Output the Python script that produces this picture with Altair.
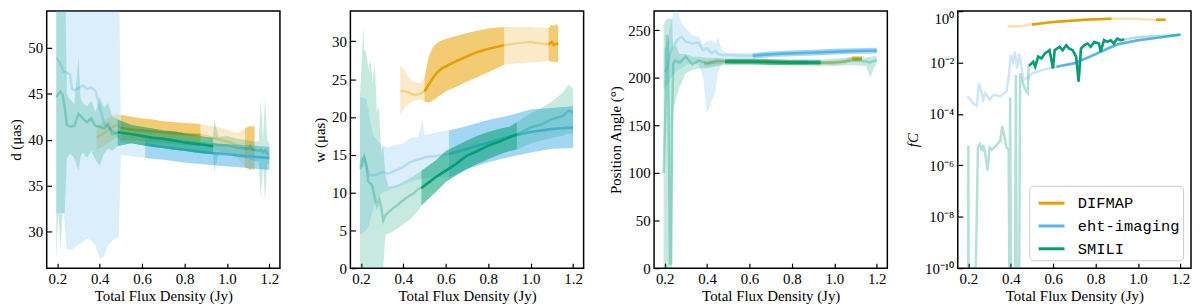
import altair as alt
import pandas as pd

METHODS = ["DIFMAP", "eht-imaging", "SMILI"]
COLORS = ["#E69F00", "#56B4E9", "#009E73"]
SOLID_DIFMAP = [[0.5, 0.875], [1.085, 1.13]]
SOLID_EHT = [[0.615, 1.2]]
SOLID_SMILI = [[0.485, 0.935]]
X_TICKS = [0.2, 0.4, 0.6, 0.8, 1.0, 1.2]

# ---------------- Panel 1: d (uas) ----------------
P1_DIFMAP_X = [0.385, 0.42, 0.45, 0.48, 0.50, 0.55, 0.60, 0.65, 0.70, 0.75, 0.80, 0.875, 0.90, 0.95, 1.00, 1.05, 1.085, 1.10, 1.11, 1.12, 1.13]
P1_DIFMAP_Y = [40.2, 40.7, 41.2, 41.6, 41.3, 41.1, 41.0, 40.9, 40.8, 40.7, 40.6, 40.5, 40.4, 40.1, 39.8, 39.4, 39.0, 39.1, 39.3, 38.9, 38.9]
P1_DIFMAP_LO = [38.9, 39.3, 39.8, 40.2, 40.0, 39.9, 39.8, 39.7, 39.6, 39.5, 39.4, 39.3, 39.2, 38.9, 38.5, 38.0, 37.0, 36.8, 36.7, 36.8, 36.7]
P1_DIFMAP_HI = [41.5, 42.0, 42.5, 42.8, 42.7, 42.5, 42.3, 42.2, 42.0, 41.9, 41.8, 41.7, 41.6, 41.4, 41.1, 40.7, 41.2, 41.4, 41.5, 41.4, 41.5]

P1_EHT_X = [0.195, 0.20, 0.215, 0.23, 0.245, 0.26, 0.27, 0.28, 0.30, 0.32, 0.34, 0.36, 0.38, 0.40, 0.42, 0.44, 0.46, 0.48, 0.49, 0.50, 0.55, 0.615, 0.70, 0.80, 0.90, 1.00, 1.10, 1.20]
P1_EHT_Y = [48.9, 48.8, 48.2, 47.4, 47.3, 47.1, 45.5, 45.4, 45.6, 45.9, 45.5, 45.7, 45.3, 43.6, 41.8, 41.3, 41.0, 40.6, 40.3, 39.9, 39.7, 39.5, 39.2, 38.9, 38.6, 38.4, 38.2, 38.0]
P1_EHT_LO = [32.0, 32.0, 32.0, 32.0, 28.0, 28.1, 28.0, 28.2, 28.6, 28.8, 29.2, 29.0, 28.5, 27.0, 27.3, 28.5, 29.0, 29.3, 29.5, 38.3, 38.2, 38.0, 37.8, 37.5, 37.3, 37.1, 36.9, 36.7]
P1_EHT_HI = [60, 60, 60, 60, 60, 60, 60, 60, 60, 60, 60, 60, 60, 60, 60, 60, 60, 60, 60, 40.6, 40.5, 40.4, 40.2, 39.9, 39.7, 39.5, 39.4, 39.2]

P1_SMILI_X = [0.195, 0.205, 0.215, 0.225, 0.235, 0.245, 0.26, 0.28, 0.30, 0.31, 0.32, 0.34, 0.36, 0.38, 0.40, 0.42, 0.44, 0.46, 0.485, 0.55, 0.60, 0.65, 0.70, 0.75, 0.80, 0.85, 0.90, 0.935, 0.94, 0.96, 1.00, 1.05, 1.10, 1.13, 1.15, 1.16, 1.17, 1.18, 1.19, 1.20]
P1_SMILI_Y = [44.6, 45.0, 45.2, 44.9, 43.5, 41.6, 41.4, 41.5, 42.8, 42.6, 42.3, 41.9, 42.3, 41.5, 41.4, 41.2, 41.7, 40.6, 40.8, 40.6, 40.4, 40.2, 40.1, 39.9, 39.7, 39.55, 39.4, 39.3, 39.5, 39.4, 39.4, 39.1, 39.0, 38.9, 38.8, 38.9, 38.6, 38.8, 38.5, 38.4]
P1_SMILI_LO = [26.8, 32.0, 28.0, 32.0, 32.0, 38.0, 38.5, 38.0, 36.6, 38.2, 38.6, 38.0, 38.8, 37.8, 37.1, 38.5, 39.0, 38.8, 39.3, 39.6, 39.4, 39.2, 39.1, 38.9, 38.8, 38.6, 38.5, 38.4, 36.5, 38.4, 38.4, 38.1, 37.9, 37.7, 37.6, 33.6, 37.4, 33.3, 37.5, 37.2]
P1_SMILI_HI = [60, 60, 60, 60, 60, 45.0, 44.4, 43.8, 48.9, 44.5, 44.0, 43.6, 44.2, 43.0, 44.6, 43.5, 44.0, 42.5, 42.2, 41.6, 41.4, 41.2, 41.0, 40.9, 40.7, 40.5, 40.3, 40.2, 42.3, 40.3, 40.4, 40.1, 39.9, 39.8, 39.8, 44.5, 40.0, 44.6, 40.0, 39.6]

# ---------------- Panel 2: w (uas) ----------------
P2_DIFMAP_X = [0.385, 0.40, 0.42, 0.44, 0.46, 0.48, 0.50, 0.52, 0.54, 0.56, 0.58, 0.60, 0.65, 0.70, 0.75, 0.80, 0.875, 0.90, 0.95, 1.00, 1.05, 1.085, 1.10, 1.11, 1.12, 1.13]
P2_DIFMAP_Y = [23.4, 23.4, 23.3, 23.0, 22.9, 23.1, 23.4, 24.3, 25.2, 25.9, 26.4, 26.7, 27.4, 28.0, 28.6, 29.0, 29.5, 29.6, 29.8, 29.9, 29.7, 29.6, 29.9, 29.5, 29.7, 29.6]
P2_DIFMAP_LO = [20.3, 21.0, 21.6, 22.0, 22.2, 22.3, 22.0, 21.9, 22.2, 22.6, 23.0, 23.4, 24.0, 24.7, 25.3, 25.9, 26.9, 27.0, 27.1, 27.2, 27.3, 27.4, 27.3, 27.3, 27.3, 27.3]
P2_DIFMAP_HI = [26.7, 26.4, 25.4, 24.8, 24.6, 24.5, 25.2, 28.0, 29.3, 29.8, 30.1, 30.3, 30.7, 31.1, 31.4, 31.7, 31.9, 31.9, 31.9, 31.9, 31.8, 31.8, 32.2, 32.0, 32.3, 32.0]

P2_EHT_X = [0.195, 0.205, 0.215, 0.225, 0.235, 0.245, 0.26, 0.28, 0.30, 0.33, 0.36, 0.40, 0.43, 0.47, 0.49, 0.50, 0.55, 0.615, 0.70, 0.80, 0.90, 1.00, 1.10, 1.20]
P2_EHT_Y = [13.4, 14.5, 14.7, 13.6, 12.7, 12.3, 12.3, 12.4, 12.7, 12.5, 12.9, 13.4, 14.0, 14.4, 14.5, 14.7, 14.8, 15.1, 15.8, 16.6, 17.4, 18.0, 18.4, 18.6]
P2_EHT_LO = [4.5, 4.6, 4.8, 5.0, 5.5, 6.5, 8.0, 9.5, 10.0, 10.3, 10.6, 11.0, 11.4, 11.7, 11.8, 11.9, 12.1, 12.0, 13.1, 14.0, 14.7, 15.3, 15.8, 15.9]
P2_EHT_HI = [22.5, 22.6, 22.5, 22.3, 21.0, 19.0, 17.5, 16.8, 16.2, 16.0, 16.3, 16.5, 17.2, 17.3, 19.7, 17.6, 17.9, 18.2, 18.8, 19.6, 20.2, 21.0, 21.2, 21.4]

P2_SMILI_X = [0.195, 0.205, 0.21, 0.215, 0.225, 0.235, 0.245, 0.255, 0.265, 0.275, 0.285, 0.295, 0.305, 0.315, 0.33, 0.35, 0.37, 0.39, 0.41, 0.43, 0.45, 0.47, 0.485, 0.55, 0.60, 0.65, 0.70, 0.75, 0.80, 0.85, 0.90, 0.935, 1.00, 1.05, 1.10, 1.15, 1.18, 1.20]
P2_SMILI_Y = [13.1, 13.6, 14.3, 14.7, 13.6, 11.4, 11.2, 10.7, 9.2, 8.3, 9.2, 8.1, 6.3, 7.0, 7.4, 7.9, 8.3, 8.8, 9.2, 9.6, 9.9, 10.5, 10.6, 12.0, 12.9, 13.8, 14.9, 15.5, 16.2, 16.7, 17.3, 17.7, 18.6, 19.0, 19.7, 20.1, 20.8, 20.6]
P2_SMILI_LO = [0, 0, 0, 0, 0, 0, 0, 0, 0, 0, 0, 0, 0, 4.4, 4.6, 4.8, 5.2, 5.6, 6.0, 6.4, 7.0, 7.6, 8.3, 10.0, 11.4, 12.3, 13.1, 13.8, 14.4, 15.0, 15.5, 15.7, 16.5, 16.9, 17.2, 17.5, 17.8, 17.7]
P2_SMILI_HI = [22.8, 28.0, 32.2, 29.0, 28.5, 26.3, 27.6, 24.5, 27.2, 20.6, 21.5, 15.3, 16.2, 12.3, 10.8, 10.9, 11.0, 11.3, 11.6, 11.9, 12.2, 12.6, 12.9, 14.2, 15.5, 16.2, 16.9, 17.5, 18.0, 18.4, 18.7, 19.3, 20.5, 21.2, 22.0, 23.2, 24.3, 23.7]

# ---------------- Panel 3: Position angle (deg) ----------------
P3_DIFMAP_X = [0.385, 0.45, 0.50, 0.60, 0.70, 0.80, 0.875, 0.95, 1.00, 1.05, 1.07, 1.085, 1.10, 1.13]
P3_DIFMAP_Y = [215, 216, 217, 217, 216.5, 216, 216, 215.5, 216, 217, 219, 220, 220, 220]
P3_DIFMAP_LO = [212, 213, 214.5, 214.5, 214, 213.5, 213.5, 213, 213.5, 214.5, 216.5, 217.5, 217.5, 217.5]
P3_DIFMAP_HI = [218, 219, 219.5, 219.5, 219, 218.5, 218.5, 218, 218.5, 219.5, 221.5, 222.5, 222.5, 222.5]

P3_EHT_X = [0.195, 0.205, 0.215, 0.225, 0.24, 0.26, 0.28, 0.30, 0.33, 0.36, 0.38, 0.40, 0.42, 0.44, 0.45, 0.47, 0.50, 0.55, 0.615, 0.70, 0.80, 0.90, 1.00, 1.10, 1.20]
P3_EHT_Y = [208, 207, 212, 226, 232, 240, 243, 238, 236, 237, 229, 231, 226, 228, 225, 224, 224, 223, 223, 224.7, 225.7, 226.4, 227.4, 228.1, 228.5]
P3_EHT_LO = [187, 190, 193, 198, 203, 208, 210, 213, 215, 214, 201, 163, 174, 187, 205, 215, 220, 220, 220, 221.7, 222.7, 223.4, 224.4, 225.1, 225.5]
P3_EHT_HI = [230, 232, 240, 255, 267, 272, 257, 252, 245, 243, 235, 238, 240, 236, 243, 229, 226, 226, 226, 227.7, 228.7, 229.4, 230.4, 231.1, 231.5]

P3_SMILI_X = [0.195, 0.20, 0.205, 0.21, 0.215, 0.22, 0.225, 0.23, 0.235, 0.24, 0.25, 0.27, 0.30, 0.33, 0.36, 0.40, 0.45, 0.485, 0.60, 0.70, 0.80, 0.935, 1.00, 1.05, 1.10, 1.15, 1.17, 1.19, 1.20]
P3_SMILI_Y = [100, 140, 180, 245, 240, 120, 5, 5, 150, 215, 218, 216, 222, 214, 218, 215, 218, 217, 217, 216.5, 216, 216, 216, 217, 218, 217, 216, 218, 218]
P3_SMILI_LO = [0, 0, 0, 0, 0, 0, 0, 0, 0, 165, 175, 190, 205, 208, 210, 210, 212, 214, 214, 213.5, 213, 213, 212, 213, 213, 212, 200, 212, 214]
P3_SMILI_HI = [255, 258, 260, 262, 262, 262, 262, 262, 262, 230, 235, 225, 225, 222, 222, 221, 221, 220, 220, 219.5, 219, 219, 220, 221, 222, 221, 222, 223, 222]

# ---------------- Panel 4: f_C (log) ----------------
P4_DIFMAP_X = [0.385, 0.45, 0.49, 0.50, 0.55, 0.60, 0.65, 0.70, 0.75, 0.80, 0.875, 0.95, 1.00, 1.05, 1.085, 1.13]
P4_DIFMAP_Y = [0.257, 0.257, 0.302, 0.302, 0.339, 0.380, 0.407, 0.427, 0.457, 0.479, 0.501, 0.501, 0.490, 0.468, 0.457, 0.457]

P4_EHT_X = [0.195, 0.21, 0.22, 0.24, 0.25, 0.26, 0.27, 0.28, 0.30, 0.32, 0.35, 0.38, 0.39, 0.40, 0.41, 0.42, 0.43, 0.44, 0.46, 0.48, 0.50, 0.55, 0.60, 0.615, 0.70, 0.80, 0.90, 1.00, 1.10, 1.20]
P4_EHT_Y = [4.8e-4, 3.6e-4, 2.7e-4, 2.0e-4, 1.6e-3, 7.9e-4, 3.6e-4, 6.5e-4, 3.6e-4, 5.6e-4, 4.8e-4, 7.6e-4, 2.8e-3, 2.0e-2, 1.07e-2, 2.6e-2, 6.0e-3, 2.2e-2, 2.1e-3, 2.5e-3, 3.8e-3, 5.1e-3, 6.5e-3, 6.9e-3, 9.3e-3, 2.1e-2, 5.0e-2, 7.4e-2, 9.3e-2, 0.123]

P4_SMILI_X = [0.195, 0.199, 0.200, 0.201, 0.235, 0.245, 0.255, 0.265, 0.27, 0.28,
              0.29, 0.30, 0.31, 0.33, 0.35, 0.36, 0.37, 0.38, 0.39, 0.393,
              0.397, 0.401, 0.42, 0.424, 0.428, 0.44, 0.444, 0.45, 0.465, 0.48,
              0.485, 0.49, 0.506, 0.515, 0.529, 0.545, 0.56, 0.583, 0.599, 0.607,
              0.63, 0.645, 0.661, 0.676, 0.692, 0.708, 0.72, 0.731, 0.746, 0.762,
              0.777, 0.793, 0.816, 0.824, 0.84, 0.855, 0.871, 0.886, 0.902, 0.917,
              0.935, 0.95, 1.00, 1.05, 1.10, 1.15, 1.20]
P4_SMILI_Y = [1e-12, 1e-12, 5.75e-6, 1e-12, 1e-12, 5.0e-6, 6.6e-6, 3.6e-6, 6.3e-6, 2.7e-6,
              6.2e-7, 4.9e-6, 4.0e-6, 5.75e-6, 8.9e-6, 3.4e-5, 1.26e-5, 5.0e-6, 4.0e-6, 1e-12,
              4.5e-4, 1e-12, 1e-12, 3.3e-3, 1e-12, 1e-12, 3.8e-3, 2.5e-3, 1.0e-3, 6.5e-4,
              7.94e-3, 7.94e-3, 1.07e-2, 6.92e-3, 1.70e-2, 1.45e-2, 2.24e-2, 3.02e-2, 5.89e-3, 3.02e-2,
              4.07e-2, 3.02e-2, 4.68e-2, 3.47e-2, 3.02e-2, 1.70e-2, 1.82e-3, 3.47e-2, 4.68e-2, 5.50e-2,
              4.07e-2, 6.31e-2, 5.50e-2, 2.63e-2, 7.41e-2, 6.31e-2, 7.41e-2, 5.50e-2, 8.51e-2, 7.41e-2,
              7.94e-2, 8.32e-2, 9.55e-2, 0.102, 0.107, 0.112, 0.117]

FONT = "Liberation Serif"
W, H = 235, 259


def build(method, solid, x, y, lo=None, hi=None):
    assert len(x) == len(y), method
    df = pd.DataFrame({"x": x, "y": y})
    if lo is not None:
        assert len(lo) == len(x) and len(hi) == len(x), method
        df["lo"] = lo
        df["hi"] = hi
    seg = []
    for v in x:
        s = -1
        for k, (a, b) in enumerate(solid):
            if a - 1e-9 <= v <= b + 1e-9:
                s = k
        seg.append(s)
    df["seg"] = seg
    df["method"] = method
    return df


def inner_axis(**kw):
    return alt.Axis(offset=-5, domain=False, tickSize=5, grid=False, **kw)


def panel(frames, ydomain, yvalues, ytitle, log=False, legend=False, label_expr=None, title_style="normal"):
    xenc = alt.X("x:Q", scale=alt.Scale(domain=[0.15, 1.25], nice=False, zero=False),
                 axis=inner_axis(values=X_TICKS, format=".1f", title="Total Flux Density (Jy)",
                                 labelPadding=3, titlePadding=3))
    if log:
        ysc = alt.Scale(type="log", domain=ydomain, clamp=True, nice=False)
    else:
        ysc = alt.Scale(domain=ydomain, nice=False, zero=False)
    yax_kw = dict(values=yvalues, title=ytitle, titlePadding=4, labelPadding=4, titleFontStyle=title_style,
                  labelBaseline={"condition": {"test": f"datum.value >= {ydomain[1]}", "value": "top"},
                                 "value": "middle"})
    if label_expr:
        yax_kw["labelExpr"] = label_expr
    yax = inner_axis(**yax_kw)
    leg = alt.Legend(title=None, orient="bottom-right", offset=8, symbolType="stroke",
                     symbolStrokeWidth=3, symbolSize=676, symbolOpacity=1, symbolOffset=5,
                     labelFont="Liberation Mono", labelFontSize=15.5, labelColor="black",
                     strokeColor="#cccccc", fillColor="white", cornerRadius=4,
                     padding=3, rowPadding=-2, labelOffset=12)
    layers = []
    for m, col, df in frames:
        base = alt.Chart(df)
        solid = base.transform_filter("datum.seg >= 0")
        if "lo" in df.columns:
            layers.append(base.mark_area(color=col, opacity=0.22, clip=True).encode(
                x=xenc, y=alt.Y("lo:Q", scale=ysc, axis=yax), y2="hi:Q"))
            layers.append(solid.mark_area(color=col, opacity=0.42, clip=True).encode(
                x=xenc, y=alt.Y("lo:Q", scale=ysc, axis=yax), y2="hi:Q", detail="seg:N"))
        if legend:
            cenc = alt.Color("method:N", scale=alt.Scale(domain=METHODS, range=COLORS), legend=leg)
        else:
            cenc = alt.value(col)
        layers.append(base.mark_line(opacity=0.3, strokeWidth=2.5, clip=True).encode(
            x=xenc, y=alt.Y("y:Q", scale=ysc, axis=yax), color=cenc))
        layers.append(solid.mark_line(strokeWidth=2.5, clip=True).encode(
            x=xenc, y=alt.Y("y:Q", scale=ysc, axis=yax), detail="seg:N", color=cenc))
    return alt.layer(*layers).properties(width=W, height=H)


p1 = panel([
    ("DIFMAP", COLORS[0], build("DIFMAP", SOLID_DIFMAP, P1_DIFMAP_X, P1_DIFMAP_Y, P1_DIFMAP_LO, P1_DIFMAP_HI)),
    ("eht-imaging", COLORS[1], build("eht-imaging", SOLID_EHT, P1_EHT_X, P1_EHT_Y, P1_EHT_LO, P1_EHT_HI)),
    ("SMILI", COLORS[2], build("SMILI", SOLID_SMILI, P1_SMILI_X, P1_SMILI_Y, P1_SMILI_LO, P1_SMILI_HI)),
], [26, 54], [30, 35, 40, 45, 50], "d (μas)")

p2 = panel([
    ("DIFMAP", COLORS[0], build("DIFMAP", SOLID_DIFMAP, P2_DIFMAP_X, P2_DIFMAP_Y, P2_DIFMAP_LO, P2_DIFMAP_HI)),
    ("eht-imaging", COLORS[1], build("eht-imaging", SOLID_EHT, P2_EHT_X, P2_EHT_Y, P2_EHT_LO, P2_EHT_HI)),
    ("SMILI", COLORS[2], build("SMILI", SOLID_SMILI, P2_SMILI_X, P2_SMILI_Y, P2_SMILI_LO, P2_SMILI_HI)),
], [0, 34], [0, 5, 10, 15, 20, 25, 30], "w (μas)")

p3 = panel([
    ("DIFMAP", COLORS[0], build("DIFMAP", SOLID_DIFMAP, P3_DIFMAP_X, P3_DIFMAP_Y, P3_DIFMAP_LO, P3_DIFMAP_HI)),
    ("eht-imaging", COLORS[1], build("eht-imaging", SOLID_EHT, P3_EHT_X, P3_EHT_Y, P3_EHT_LO, P3_EHT_HI)),
    ("SMILI", COLORS[2], build("SMILI", SOLID_SMILI, P3_SMILI_X, P3_SMILI_Y, P3_SMILI_LO, P3_SMILI_HI)),
], [0, 270], [0, 50, 100, 150, 200, 250], "Position Angle (°)")

p4 = panel([
    ("DIFMAP", COLORS[0], build("DIFMAP", SOLID_DIFMAP, P4_DIFMAP_X, P4_DIFMAP_Y)),
    ("eht-imaging", COLORS[1], build("eht-imaging", SOLID_EHT, P4_EHT_X, P4_EHT_Y)),
    ("SMILI", COLORS[2], build("SMILI", SOLID_SMILI, P4_SMILI_X, P4_SMILI_Y)),
], [1e-10, 1], [1e-10, 1e-8, 1e-6, 1e-4, 1e-2, 1], "fC", log=True, legend=True,
    label_expr="['10⁰','10⁻²','10⁻⁴','10⁻⁶','10⁻⁸','10⁻¹⁰'][round(-log(datum.value)/LN10/2)]",
    title_style="italic")

chart = alt.hconcat(p1, p2, p3, p4, spacing=71, bounds="flush").resolve_scale(
    color="independent"
).resolve_legend(
    color="independent"
).properties(
    padding={"left": 0, "right": 0, "top": 0, "bottom": 0}
).configure_view(
    stroke="black", strokeWidth=1.5
).configure_axis(
    labelFont=FONT, labelFontSize=15, labelColor="black",
    titleFont=FONT, titleFontSize=15, titleFontWeight="normal", titleColor="black",
    tickColor="black", tickWidth=1.2
)

chart.save("out.html", embed_options={"renderer": "svg", "actions": False})
